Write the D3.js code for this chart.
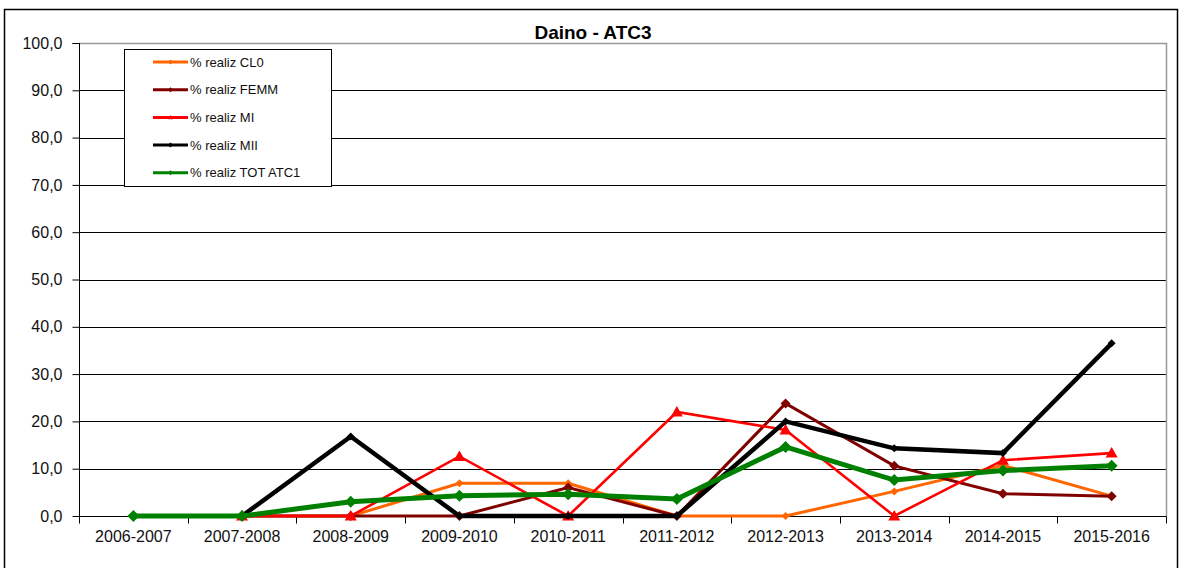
<!DOCTYPE html>
<html>
<head>
<meta charset="utf-8">
<script src="https://cdn.jsdelivr.net/npm/d3@7/dist/d3.min.js"></script>
<style>
  html, body { margin: 0; padding: 0; background: #fff; }
  svg { display: block; font-family: "Liberation Sans", Arial, sans-serif; }
</style>
</head>
<body>
<svg id="chart" width="1182" height="568"></svg>
<script>
// Seasons on the category axis
const seasons = ["2006-2007", "2007-2008", "2008-2009", "2009-2010", "2010-2011",
                 "2011-2012", "2012-2013", "2013-2014", "2014-2015", "2015-2016"];

// Percent of harvest realised, per class (null = no figure for that season)
const realizCL0  = [null, 0, 0, 6.9, 6.9, 0, 0, 5.2, 10.7, 4.2];
const realizFEMM = [null, 0, 0, 0, 6.0, 0, 23.8, 10.6, 4.7, 4.2];
const realizMI   = [null, 0, 0, 12.6, 0, 22.0, 18.2, 0, 11.8, 13.3];
const realizMII  = [null, 0, 16.8, 0, 0, 0, 20.0, 14.3, 13.3, 36.5];
const realizTOT  = [0, 0, 3.0, 4.3, 4.6, 3.6, 14.6, 7.6, 9.6, 10.6];

const yTicks = [0, 10, 20, 30, 40, 50, 60, 70, 80, 90, 100];

const seriesNames = ["% realiz CL0", "% realiz FEMM", "% realiz MI", "% realiz MII", "% realiz TOT ATC1"];

const series = [
  { name: seriesNames[0], values: realizCL0,  color: "#FF6600", width: 3,   marker: "diamond",  size: 4 },
  { name: seriesNames[1], values: realizFEMM, color: "#800000", width: 3,   marker: "diamond",  size: 5 },
  { name: seriesNames[2], values: realizMI,   color: "#FF0000", width: 2.6, marker: "triangle", size: 6 },
  { name: seriesNames[3], values: realizMII,  color: "#000000", width: 4.5, marker: "diamond",  size: 4 },
  { name: seriesNames[4], values: realizTOT,  color: "#008000", width: 5,   marker: "diamond",  size: 6 }
];

const FONT = "'Liberation Sans', Arial, sans-serif";
const svg = d3.select("#chart");
const plot = { left: 79, right: 1166, top: 43, bottom: 516 };

// Outer chart frame
svg.append("rect")
  .attr("x", 4.5).attr("y", 9.5).attr("width", 1173).attr("height", 570)
  .attr("fill", "#fff").attr("stroke", "#000").attr("stroke-width", 1.5);

const x = d3.scaleBand().domain(seasons).range([plot.left, plot.right]).padding(0);
const y = d3.scaleLinear().domain([0, 100]).range([plot.bottom, plot.top]);
const cx = d => x(d) + x.bandwidth() / 2;

// Horizontal gridlines
svg.append("g").selectAll("line")
  .data(yTicks.filter(v => v > 0 && v < 100))
  .join("line")
  .attr("x1", plot.left).attr("x2", plot.right)
  .attr("y1", d => Math.round(y(d)) + 0.5).attr("y2", d => Math.round(y(d)) + 0.5)
  .attr("stroke", "#000").attr("stroke-width", 1);

// Plot area border (top and right)
svg.append("path")
  .attr("d", `M${plot.left},${plot.top + 0.5}H${plot.right + 0.5}V${plot.bottom}`)
  .attr("fill", "none").attr("stroke", "#999").attr("stroke-width", 1.5);

// Y axis
const yAxis = svg.append("g")
  .attr("transform", `translate(${plot.left + 0.5},0)`)
  .call(d3.axisLeft(y).tickValues(yTicks).tickSize(7).tickPadding(10)
    .tickFormat(d => d3.format(".1f")(d).replace(".", ",")));
yAxis.select(".domain").attr("stroke", "#000").attr("d", `M-7,${plot.top + 0.5}H0V${plot.bottom + 0.5}`);
yAxis.selectAll(".tick line").attr("stroke", "#000");
yAxis.selectAll(".tick text").attr("font-size", 16).attr("fill", "#111")
  .attr("font-family", FONT);

// X axis: labels centred on categories, tick marks at category boundaries
const xAxis = svg.append("g")
  .attr("transform", `translate(0,${plot.bottom + 0.5})`)
  .call(d3.axisBottom(x).tickSize(0).tickPadding(14));
xAxis.select(".domain").attr("stroke", "#000").attr("d", `M${plot.left},0H${plot.right + 0.5}`);
xAxis.selectAll(".tick text").attr("font-size", 16).attr("fill", "#111")
  .attr("font-family", FONT);
const edges = seasons.map(d => x(d)).concat([x(seasons[seasons.length - 1]) + x.bandwidth()]);
xAxis.append("g").selectAll("line")
  .data(edges)
  .join("line")
  .attr("x1", d => Math.round(d) + 0.5).attr("x2", d => Math.round(d) + 0.5)
  .attr("y1", 0).attr("y2", 7)
  .attr("stroke", "#000");

// Title
svg.append("text")
  .attr("x", 593).attr("y", 39)
  .attr("text-anchor", "middle")
  .attr("font-size", 19).attr("font-weight", "bold").attr("fill", "#000")
  .text("Daino - ATC3");

// Marker path generator
function markerPath(type, s) {
  if (type === "triangle") return `M0,${-s}L${s},${s * 0.75}L${-s},${s * 0.75}Z`;
  return `M0,${-s}L${s},0L0,${s}L${-s},0Z`;
}

const line = d3.line()
  .defined(d => d.v !== null)
  .x(d => cx(d.k))
  .y(d => y(d.v));

const lines = svg.append("g");
series.forEach(s => {
  const pts = seasons.map((k, i) => ({ k, v: s.values[i] }));
  const g = lines.append("g");
  g.append("path")
    .datum(pts)
    .attr("d", line)
    .attr("fill", "none")
    .attr("stroke", s.color)
    .attr("stroke-width", s.width)
    .attr("stroke-linejoin", "miter");
  g.selectAll("path.m")
    .data(pts.filter(d => d.v !== null))
    .join("path")
    .attr("class", "m")
    .attr("transform", d => `translate(${cx(d.k)},${y(d.v)})`)
    .attr("d", markerPath(s.marker, s.size))
    .attr("fill", s.color);
});

// Legend
const legend = svg.append("g");
legend.append("rect")
  .attr("x", 124.5).attr("y", 49.5).attr("width", 207).attr("height", 137)
  .attr("fill", "#fff").attr("stroke", "#000").attr("stroke-width", 1);
series.forEach((s, i) => {
  const ly = 62 + i * 27.7;
  legend.append("line")
    .attr("x1", 153).attr("x2", 188).attr("y1", ly).attr("y2", ly)
    .attr("stroke", s.color).attr("stroke-width", 3);
  legend.append("path")
    .attr("transform", `translate(170.5,${ly})`)
    .attr("d", markerPath(s.marker, 2.5))
    .attr("fill", s.color);
  legend.append("text")
    .attr("x", 190).attr("y", ly + 4.5)
    .attr("font-size", 13).attr("fill", "#111")
    .text(s.name);
});
</script>
</body>
</html>
